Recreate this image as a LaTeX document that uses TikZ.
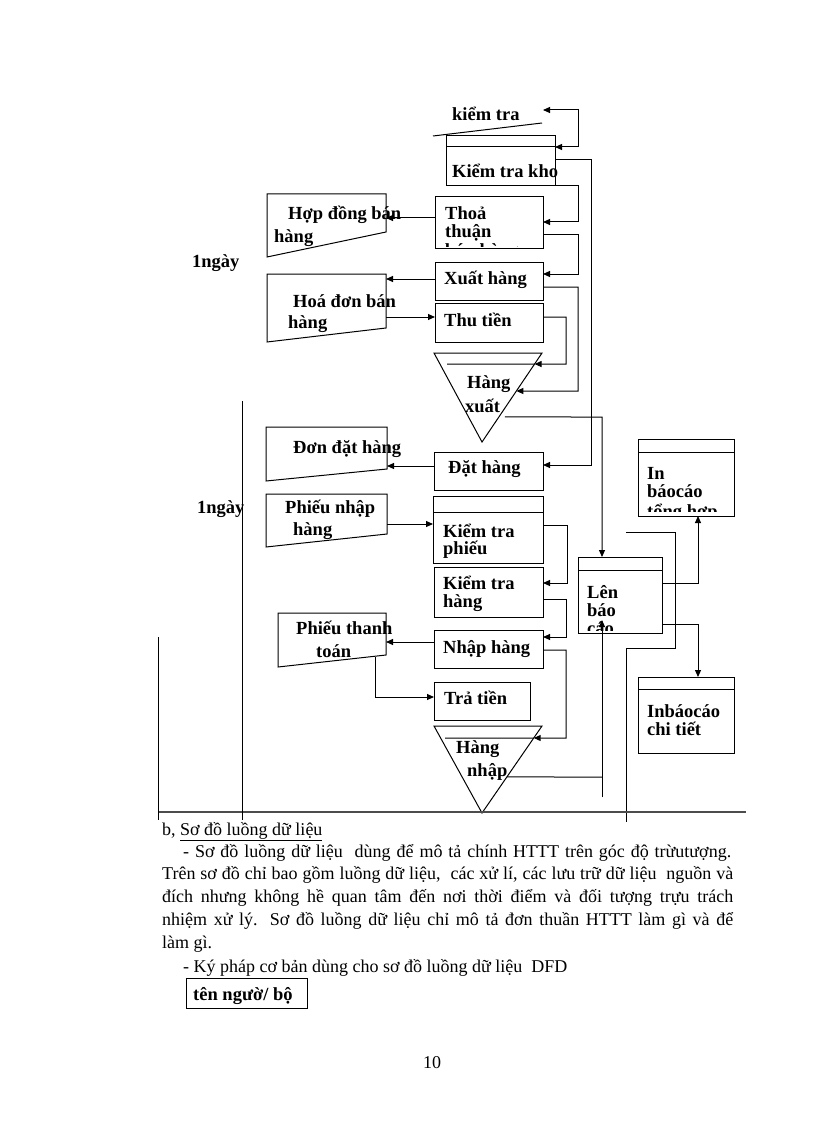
\documentclass[tikz,border=0pt]{standalone}
\usepackage{fontspec}
\setmainfont{Liberation Serif}
\usetikzlibrary{arrows.meta,calc}
\tikzset{
  ln/.style={line width=1pt},
  arr/.style={ln,-{Triangle[length=7pt,width=6pt]}},
  bx/.style={draw,ln,rectangle,anchor=north west,inner sep=0pt,outer sep=0pt},
  lab/.style={anchor=base west,inner sep=0pt,font=\fontsize{18.5}{20}\selectfont\bfseries},
  body/.style={anchor=base west,inner sep=0pt,font=\fontsize{18}{22}\selectfont},
}
\newcommand\mylbl[4]{\node[lab] (#1) at (#2,#3) {#4};}
\begin{document}
\begin{tikzpicture}[x=1pt,y=-1pt]
\useasboundingbox (0,0) rectangle (816,1123);
\fill[white] (0,0) rectangle (816,1123);

% ---------- process boxes ----------
\node[bx,minimum width=109pt,minimum height=50pt] (kho) at (446,136) {};
\draw[ln] (kho.north west |- 0,147) -- (kho.north east |- 0,147);
\node[bx,minimum width=108pt,minimum height=51pt] (thoa) at (435,197) {};
\node[bx,minimum width=108pt,minimum height=38pt] (xuat) at (435,262) {};
\node[bx,minimum width=108pt,minimum height=39pt] (thu) at (435,303) {};
\node[bx,minimum width=109pt,minimum height=38pt] (dat) at (434,452) {};
\node[bx,minimum width=110pt,minimum height=67pt] (ktp) at (433,496) {};
\draw[ln] (ktp.north west |- 0,512) -- (ktp.north east |- 0,512);
\node[bx,minimum width=109pt,minimum height=50pt] (kth) at (434,567) {};
\node[bx,minimum width=109pt,minimum height=38pt] (nhap) at (434,630) {};
\node[bx,minimum width=96pt,minimum height=38pt] (tra) at (434,682) {};
\node[bx,minimum width=84pt,minimum height=76pt] (len) at (578,557) {};
\draw[ln] (len.north west |- 0,570) -- (len.north east |- 0,570);
\node[bx,minimum width=96pt,minimum height=77pt] (inth) at (638,439) {};
\draw[ln] (inth.north west |- 0,452) -- (inth.north east |- 0,452);
\node[bx,minimum width=96pt,minimum height=76pt] (inct) at (638,677) {};
\draw[ln] (inct.north west |- 0,689) -- (inct.north east |- 0,689);

% ---------- data store "kiem tra" ----------
\draw[ln] (433,136) -- (542,123);
\coordinate (ktin) at (543,110);

% ---------- triangles (data stores) ----------
\coordinate (hxA) at (434,353); \coordinate (hxB) at (542,353); \coordinate (hxC) at (482,442);
\draw[ln] (hxA) -- (hxB) -- (hxC) -- cycle;
\draw[ln] (447,364) -- ($(hxB)!0.124!(hxC)$);
\coordinate (hnA) at (434,726); \coordinate (hnB) at (542,726); \coordinate (hnC) at (482,813);
\draw[ln] (hnA) -- (hnB) -- (hnC) -- cycle;
\draw[ln] (445,738) -- ($(hnB)!0.138!(hnC)$);

% ---------- documents ----------
\draw[ln] (267,194) -- (386,194) -- (386,232) -- (267,257) -- cycle;
\coordinate (hdR) at (386,218);
\draw[ln] (267,274) -- (386,274) -- (386,328) -- (267,342) -- cycle;
\coordinate (hoaR1) at (386,279); \coordinate (hoaR2) at (386,317);
\draw[ln] (266,427) -- (387,427) -- (387,469) -- (266,481) -- cycle;
\coordinate (ddhR) at (387,466);
\draw[ln] (266,494) -- (387,494) -- (387,534) -- (266,547) -- cycle;
\coordinate (pnhR) at (387,524);
\draw[ln] (278,613) -- (386,613) -- (386,655) -- (278,667) -- cycle;
\coordinate (ptR) at (386,642); \coordinate (ptB) at (375,657);

% ---------- connectors ----------
\draw[ln,{Triangle[length=7pt,width=6pt]}-{Triangle[length=7pt,width=6pt]}] (ktin) -- (578,110) -- (578,147) -- (kho.east |- 0,147);
\draw[arr] (kho.east |- 0,160) -- (591,160) -- (591,465) -- (dat.east |- 0,465);
\draw[arr] (kho.south east) -- (578,186) -- (578,222) -- (thoa.east |- 0,222);
\draw[arr] (thoa.east |- 0,235) -- (578,235) -- (578,274) -- (xuat.east |- 0,274);
\draw[arr] (xuat.east |- 0,287) -- (578,287) -- (578,391) -- ($(hxB)!0.427!(hxC)$);
\draw[arr] (thu.east |- 0,317) -- (566,317) -- (566,364) -- ($(hxB)!0.124!(hxC)$);
\draw[arr] (thoa.west |- 0,218) -- (hdR);
\draw[arr] (xuat.west |- 0,279) -- (hoaR1);
\draw[arr] (hoaR2) -- (thu.west |- 0,317);
\draw[arr] ($(hxB)!0.719!(hxC)+(6,0)$) -- (602,417) -- (len.north -| 602,0);
\draw[arr] (dat.west |- 0,466) -- (ddhR);
\draw[arr] (pnhR) -- (ktp.west |- 0,524);
\draw[arr] (ktp.east |- 0,525) -- (567,525) -- (567,583) -- (kth.east |- 0,583);
\draw[arr] (kth.east |- 0,599) -- (566,599) -- (566,637) -- (nhap.east |- 0,637);
\draw[arr] (nhap.east |- 0,650) -- (566,650) -- (566,738) -- ($(hnB)!0.138!(hnC)$);
\draw[arr] (nhap.west |- 0,642) -- (ptR);
\draw[arr] (ptB) -- (375,697) -- (tra.west |- 0,697);
\coordinate (hnout) at ($(hnB)!0.586!(hnC)$);
\draw[ln] (hnout) -- (602,777);
\coordinate (upfoot) at (602,797);
\draw[arr] (upfoot) -- (602,620);
\draw[arr] (len.east |- 0,583) -- (698,583) -- (inth.south -| 698,0);
\draw[arr] (len.east |- 0,624) -- (698,624) -- (inct.north -| 698,0);
\coordinate (brk) at (626,532);
\draw[ln] (brk) -- (675,532) -- (675,648) -- (626,648) -- (626,822);

% ---------- frame lines ----------
\draw[line width=2.2pt,black!70] (158,812) -- (746,812);
\draw[ln] (242,401) -- (242,820);
\draw[ln] (158,637) -- (158,820);

% ---------- labels ----------
\mylbl{tkt}{452}{121}{kiểm tra}
\mylbl{tkho}{452}{178}{Kiểm tra kho}
\mylbl{tthoa1}{445}{220}{Thoả}
\mylbl{tthoa2}{445}{237}{thuận}
\begin{scope}
\clip (437,199) rectangle (541,246);
\mylbl{tthoa3}{445}{256}{bán hàng}
\end{scope}
\mylbl{thd1}{288}{220}{Hợp đồng bán}
\mylbl{thd2}{274}{243}{hàng}
\mylbl{tng1}{192}{267}{1ngày}
\mylbl{txuat}{444}{284}{Xuất hàng}
\mylbl{thoa1}{293}{307}{Hoá đơn bán}
\mylbl{thoa2}{288}{328}{hàng}
\mylbl{tthu}{444}{326}{Thu tiền}
\mylbl{thx1}{467}{388}{Hàng}
\mylbl{thx2}{465}{412}{xuất}
\mylbl{tddh}{293}{453}{Đơn đặt hàng}
\mylbl{tdat}{448}{473}{Đặt hàng}
\mylbl{tng2}{197}{513}{1ngày}
\mylbl{tpnh1}{285}{513}{Phiếu nhập}
\mylbl{tpnh2}{293}{535}{hàng}
\mylbl{tktp1}{443}{537}{Kiểm tra}
\mylbl{tktp2}{443}{554}{phiếu}
\mylbl{tkth1}{443}{589}{Kiểm tra}
\mylbl{tkth2}{443}{607}{hàng}
\mylbl{tpt1}{296}{634}{Phiếu thanh}
\mylbl{tpt2}{316}{657}{toán}
\mylbl{tnhap}{443}{653}{Nhập hàng}
\mylbl{ttra}{444}{704}{Trả tiền}
\mylbl{thn1}{456}{753}{Hàng}
\mylbl{thn2}{467}{776}{nhập}
\mylbl{tinth1}{647}{479}{In}
\mylbl{tinth2}{647}{497}{báocáo}
\begin{scope}
\clip (640,454) rectangle (732,511);
\mylbl{tinth3}{647}{517}{tổng hợp}
\end{scope}
\mylbl{tlen1}{587}{598}{Lên}
\mylbl{tlen2}{587}{616}{báo}
\begin{scope}
\clip (580,572) rectangle (660,630);
\mylbl{tlen3}{587}{634}{cáo}
\end{scope}
\mylbl{tinct1}{647}{717}{Inbáocáo}
\mylbl{tinct2}{647}{735}{chi tiết}

% ---------- body text ----------
\node[body] (b1) at (162,835) {b, \underline{Sơ đồ luồng dữ liệu}};
\node[body] (b2) at (183,857) {\makebox[548pt][s]{- Sơ đồ luồng dữ liệu \ dùng để mô tả chính HTTT trên góc độ trừutượng.}};
\node[body] (b3) at (162,879) {\makebox[571pt][s]{Trên sơ đồ chỉ bao gồm luồng dữ liệu, \ các xử lí, các lưu trữ dữ liệu \ nguồn và}};
\node[body] (b4) at (162,902) {\makebox[571pt][s]{đích nhưng không hề quan tâm đến nơi thời điểm và đối tượng trựu trách}};
\node[body] (b5) at (162,925) {\makebox[571pt][s]{nhiệm xử lý. Sơ đồ luồng dữ liệu chỉ mô tả đơn thuần HTTT làm gì và để}};
\node[body] (b6) at (162,948) {làm gì.};
\node[body] (b7) at (183,972) {- Ký pháp cơ bản dùng cho sơ đồ luồng dữ liệu \ DFD};
\node[bx,minimum width=121pt,minimum height=30pt] (tnb) at (186,978) {};
\mylbl{ttnb}{193}{1000}{tên ngườ/ bộ}
\node[body,anchor=base] (pg) at (432,1068) {10};
\end{tikzpicture}
\end{document}
